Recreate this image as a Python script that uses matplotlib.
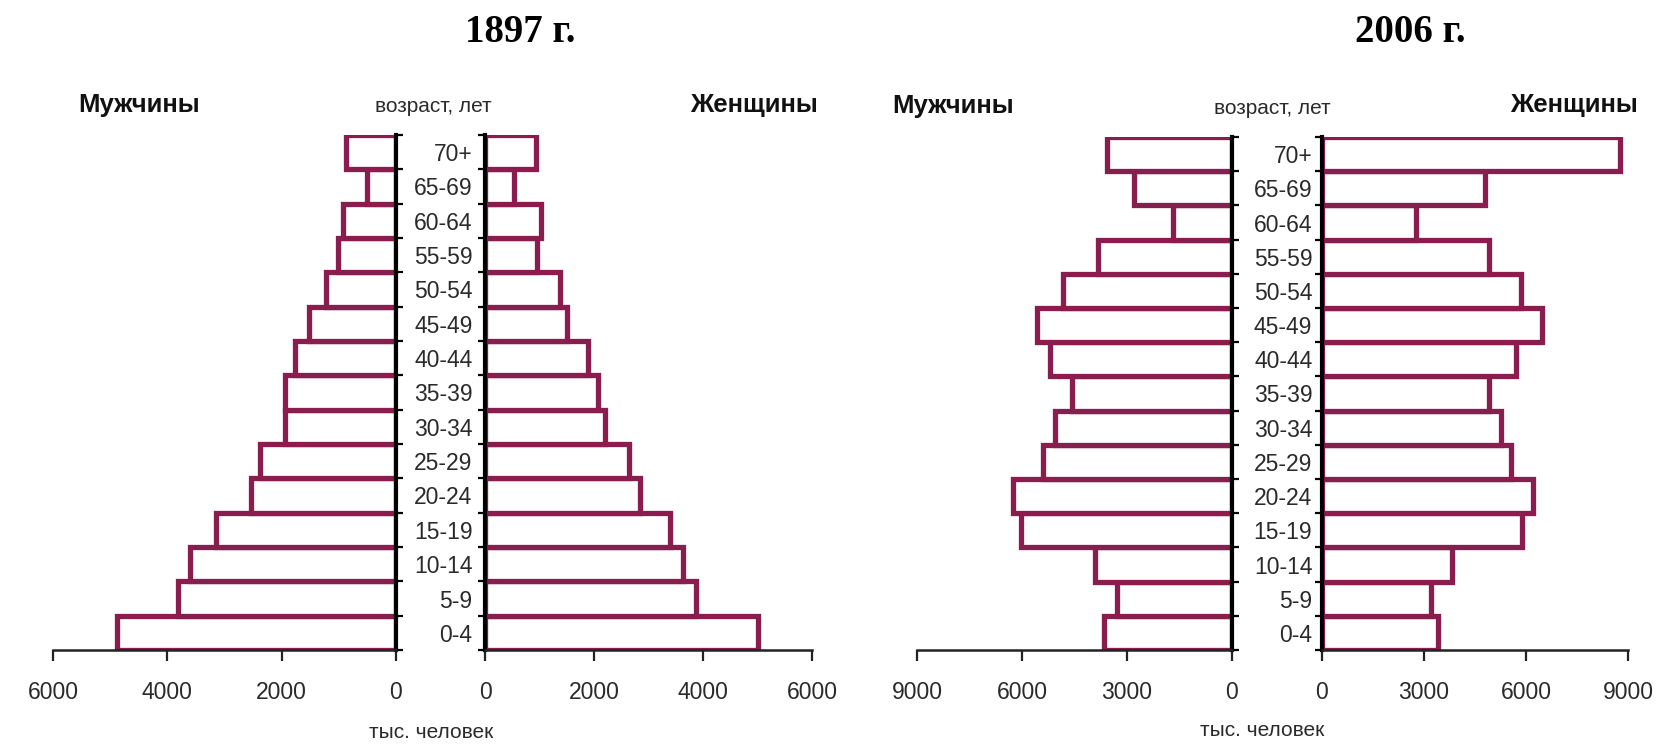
import matplotlib
matplotlib.use("Agg")
import matplotlib.pyplot as plt
import numpy as np

plt.rcParams['font.family'] = ['Liberation Sans', 'DejaVu Sans']

# age groups, bottom to top
ages = ['0-4', '5-9', '10-14', '15-19', '20-24', '25-29', '30-34', '35-39',
        '40-44', '45-49', '50-54', '55-59', '60-64', '65-69', '70+']

# thousand people
men_1897 = [4880, 3810, 3610, 3140, 2530, 2380, 1950, 1950,
            1770, 1530, 1230, 1020, 930, 510, 870]
women_1897 = [5000, 3880, 3640, 3400, 2850, 2650, 2210, 2080,
              1890, 1510, 1380, 960, 1030, 530, 930]
men_2006 = [3650, 3300, 3920, 6030, 6270, 5400, 5060, 4580,
            5190, 5570, 4830, 3820, 1700, 2790, 3560]
women_2006 = [3400, 3220, 3810, 5870, 6220, 5560, 5270, 4900,
              5710, 6470, 5850, 4920, 2760, 4800, 8770]

ticks_1897 = [0, 2000, 4000, 6000]
ticks_2006 = [0, 3000, 6000, 9000]

W, H = 1661, 749
EDGE = '#8a1c4e'
TXT = '#2a2a2a'

fig = plt.figure(figsize=(W / 100, H / 100), dpi=100)


def add_ax(x0, x1, y0, y1):
    # pixel box -> figure fraction
    return fig.add_axes([x0 / W, 1 - y1 / H, (x1 - x0) / W, (y1 - y0) / H])


def pyramid_side(ax, values, ticks, side, show_labels, lab_pad):
    y = np.arange(len(ages))
    ax.barh(y, values, height=1.0, color='white', edgecolor=EDGE,
            linewidth=3.8, zorder=2)
    ax.set_ylim(-0.5, len(ages) - 0.5)
    ax.set_xlim(0, ticks[-1])
    ax.set_xticks(ticks)
    ax.set_xticklabels([str(t) for t in ticks], fontsize=16.5, color=TXT)
    ax.tick_params(axis='x', direction='out', length=8, width=1.6,
                   color='#222222', pad=14)
    ax.spines['top'].set_visible(False)
    ax.spines['bottom'].set_linewidth(1.8)
    ax.spines['bottom'].set_color('#222222')
    ax.set_yticks(y)
    ax.set_yticks(np.arange(-0.5, len(ages)), minor=True)
    ax.tick_params(axis='y', which='major', length=0, pad=lab_pad)
    ax.tick_params(axis='y', which='minor', direction='out', length=5,
                   width=1.6, color='black')
    if side == 'left':
        ax.invert_xaxis()
        ax.spines['left'].set_visible(False)
        ax.spines['right'].set_linewidth(3)
        ax.spines['right'].set_color('black')
        ax.yaxis.tick_right()
    else:
        ax.spines['right'].set_visible(False)
        ax.spines['left'].set_linewidth(3)
        ax.spines['left'].set_color('black')
        ax.yaxis.tick_left()
    for s in ax.spines.values():
        s.set_zorder(3)
    if show_labels:
        ax.set_yticklabels(ages, fontsize=16.5, color=TXT)
    else:
        ax.set_yticklabels([])


# 1897
ax1 = add_ax(53, 396, 135, 650)
ax2 = add_ax(485, 812, 135, 650)
pyramid_side(ax1, men_1897, ticks_1897, 'left', False, 4)
pyramid_side(ax2, women_1897, ticks_1897, 'right', True, 9)

# 2006
ax3 = add_ax(917, 1232, 137, 650)
ax4 = add_ax(1322, 1628, 137, 650)
pyramid_side(ax3, men_2006, ticks_2006, 'left', False, 4)
pyramid_side(ax4, women_2006, ticks_2006, 'right', True, 7)

# titles and headers
fig.text(520 / W, 1 - 32 / H, '1897 г.', ha='center', va='center',
         fontsize=28, fontweight='bold', family='Liberation Serif')
fig.text(1410 / W, 1 - 32 / H, '2006 г.', ha='center', va='center',
         fontsize=28, fontweight='bold', family='Liberation Serif')

head = dict(va='center', fontsize=18.5, fontweight='bold', color='#111111')
fig.text(78 / W, 1 - 105 / H, 'Мужчины', ha='left', **head)
fig.text(818 / W, 1 - 105 / H, 'Женщины', ha='right', **head)
fig.text(892 / W, 1 - 106 / H, 'Мужчины', ha='left', **head)
fig.text(1638 / W, 1 - 105 / H, 'Женщины', ha='right', **head)

sub = dict(ha='center', va='center', fontsize=15, color=TXT)
fig.text(433 / W, 1 - 106 / H, 'возраст, лет', **sub)
fig.text(1272 / W, 1 - 108 / H, 'возраст, лет', **sub)
fig.text(431 / W, 1 - 733 / H, 'тыс. человек', **sub)
fig.text(1262 / W, 1 - 731 / H, 'тыс. человек', **sub)

fig.savefig('out.png', dpi=100, facecolor='white')
